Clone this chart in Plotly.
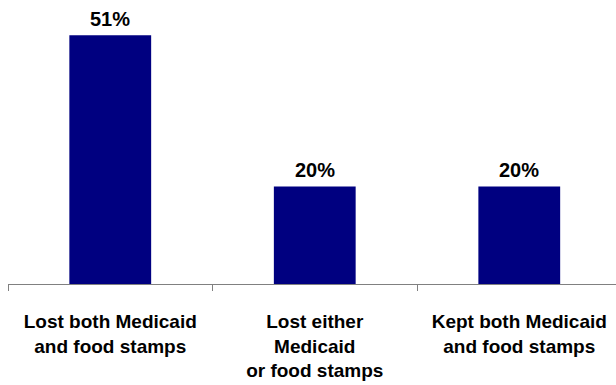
import plotly.graph_objects as go

categories = ["Lost both Medicaid<br>and food stamps",
              "Lost either<br>Medicaid<br>or food stamps",
              "Kept both Medicaid<br>and food stamps"]
values = [51, 20, 20]
value_labels = ["51%", "20%", "20%"]

bar_color = "#000080"
font_family = "Liberation Sans, Arial, sans-serif"

fig = go.Figure()
fig.add_trace(go.Bar(
    x=categories, y=values, marker_color=bar_color, width=0.4,
    marker_line_width=0, hoverinfo="skip",
))
for c, v, t in zip(categories, values, value_labels):
    fig.add_annotation(x=c, y=v, text="<b>%s</b>" % t, showarrow=False,
                       yanchor="bottom", yshift=3,
                       font=dict(family=font_family, size=20, color="black"))

fig.update_layout(
    width=616, height=385,
    margin=dict(l=8, r=0, t=0, b=101),
    plot_bgcolor="white", paper_bgcolor="white",
    showlegend=False,
    xaxis=dict(
        range=[-0.5, 2.473],
        showline=True, linecolor="#808080", linewidth=1,
        ticks="outside", tickson="boundaries", ticklen=6, tickcolor="#808080",
        tickfont=dict(family=font_family, size=19, color="black"),
        ticklabelstandoff=20,
    ),
    yaxis=dict(range=[0, 58.2], visible=False, showgrid=False),
)
fig.update_xaxes(ticktext=["<b>%s</b>" % c for c in categories], tickvals=categories)
fig.write_html("out.html", post_script="document.body.style.margin='0';",
               config={"displayModeBar": False})
